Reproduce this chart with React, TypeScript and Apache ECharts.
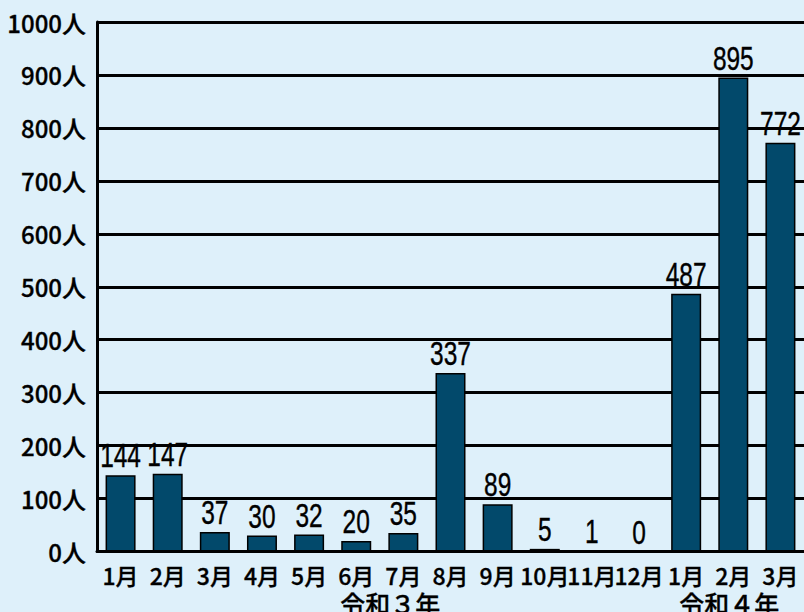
import React, { useEffect, useRef } from "react";
import * as echarts from "echarts";

const categories = ["1月", "2月", "3月", "4月", "5月", "6月", "7月", "8月", "9月", "10月", "11月", "12月", "1月", "2月", "3月"];
const values = [144, 147, 37, 30, 32, 20, 35, 337, 89, 5, 1, 0, 487, 895, 772];
const yearLabels = ["令和３年", "令和４年"];

const jp = "'Noto Sans CJK JP Medium', 'Noto Sans CJK JP', 'Noto Sans', sans-serif";

export default function App() {
  const ref = useRef<HTMLDivElement>(null);
  useEffect(() => {
    const chart = echarts.init(ref.current!, null, { renderer: "svg" });
    chart.setOption({
      animation: false,
      backgroundColor: "#def0fa",
      grid: { left: 97, right: -1, top: 22, bottom: 60.5, containLabel: false },
      xAxis: {
        type: "category",
        data: categories,
        axisLine: { lineStyle: { color: "#000", width: 3 } },
        axisTick: { show: false },
        axisLabel: {
          color: "#000",
          fontSize: 23,
          fontWeight: 500,
          fontFamily: jp,
          textBorderColor: "#000",
          textBorderWidth: 0.3,
          margin: 12,
          interval: 0,
        },
      },
      yAxis: {
        type: "value",
        min: 0,
        max: 1000,
        interval: 100,
        axisLine: { show: true, lineStyle: { color: "#000", width: 3 } },
        axisTick: { show: false },
        splitLine: { lineStyle: { color: "#000", width: 3 } },
        axisLabel: {
          color: "#000",
          fontSize: 24,
          fontWeight: 500,
          fontFamily: jp,
          textBorderColor: "#000",
          textBorderWidth: 0.3,
          formatter: (v: number) => v + "人",
          margin: 11,
        },
      },
      series: [
        {
          type: "bar",
          data: values,
          barWidth: 30,
          itemStyle: { color: "#02496b", borderColor: "#000", borderWidth: 1.5 },
        },
        {
          type: "custom",
          data: values.map((v, i) => [i, v]),
          z: 10,
          renderItem: (params: any, api: any) => {
            const p = api.coord([api.value(0), api.value(1)]);
            return {
              type: "text",
              x: p[0],
              y: p[1] - 3,
              scaleX: 0.72,
              style: {
                x: 0,
                y: 0,
                text: String(api.value(1)),
                fontSize: 34,
                fontFamily: "'Liberation Sans', Arial, sans-serif",
                fill: "#000",
                stroke: "#000",
                lineWidth: 0.4,
                align: "center",
                verticalAlign: "bottom",
              },
            };
          },
        },
      ],
      graphic: [
        {
          type: "text",
          left: 340,
          top: 590,
          style: { text: yearLabels[0], fontSize: 25, fontWeight: 500, fontFamily: jp, fill: "#000", stroke: "#000", lineWidth: 0.3 },
        },
        {
          type: "text",
          left: 679,
          top: 590,
          style: { text: yearLabels[1], fontSize: 25, fontWeight: 500, fontFamily: jp, fill: "#000", stroke: "#000", lineWidth: 0.3 },
        },
      ],
    });
    return () => chart.dispose();
  }, []);
  return <div ref={ref} style={{ width: 804, height: 612, position: "fixed", left: 0, top: 0 }} />;
}
